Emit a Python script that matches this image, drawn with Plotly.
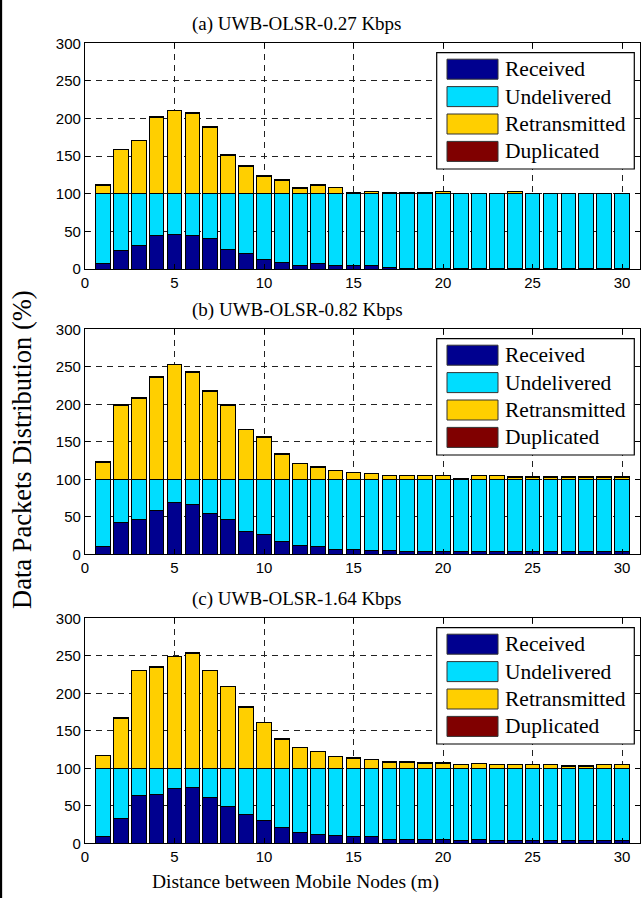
import plotly.graph_objects as go

# Distance between mobile nodes (m)
distance = list(range(1, 31))

series_names = ["Received", "Undelivered", "Retransmitted", "Duplicated"]
series_colors = ["#00008F", "#00DDFF", "#FFCF00", "#800000"]

panel_titles = [
    "(a) UWB-OLSR-0.27 Kbps",
    "(b) UWB-OLSR-0.82 Kbps",
    "(c) UWB-OLSR-1.64 Kbps",
]

# ---- (a) 0.27 Kbps ----
received_a = [7, 24, 31, 44, 46, 44, 41, 26, 21, 12, 9, 5, 7, 5, 4, 4, 1.5, 1, 1, 1,
              0.5, 0.5, 0.5, 0.5, 0.5, 0.5, 0.5, 0.5, 0.5, 0.5]
retrans_a = [11.2, 58.4, 70.4, 102, 110.2, 107.1, 88.6, 51.3, 36.8, 23.4, 18.2, 7.6, 11.4, 8.4,
             0.8, 3, 0.8, 0.8, 0.8, 3, 0.6, 0.6, 0.6, 3, 0.6, 0.6, 0.6, 0.6, 0.6, 0.6]
dup_a = [0.6, 0.6, 0.6, 0.5, 0.6, 0.6, 0.6, 0.6, 0.4, 0.5, 0.4, 0.4, 0.5, 0.4, 0.4,
         0.4, 0.4, 0.4, 0.4, 0.4, 0.4, 0.4, 0.4, 0.4, 0.4, 0.4, 0.4, 0.4, 0.4, 0.4]

# ---- (b) 0.82 Kbps ----
received_b = [11, 42, 47, 59, 69, 66, 54, 46, 30, 27, 16.5, 11.5, 10, 6.5, 6.5, 5, 5, 3.5, 3.5, 3.5,
              3.5, 3.5, 3.5, 3.5, 3.5, 3.5, 3.5, 3.5, 3.5, 3.5]
retrans_b = [22.9, 98.5, 108.2, 135.8, 152.7, 142.5, 117.6, 98.5, 66, 55.8, 33.4, 21.1, 15.8, 11.3,
             9.1, 7.3, 5.1, 5.1, 5.1, 5.1, 0.5, 5.1, 5.1, 2.5, 2.9, 2.9, 2.9, 2.9, 2.9, 2.9]
dup_b = [0.6, 0.6, 0.6, 0.6, 0.6, 1.0, 0.6, 0.6, 0.6, 0.6, 0.8, 0.6, 0.6, 0.6, 0.6,
         0.6, 0.6, 0.6, 0.6, 0.6, 1.2, 0.6, 0.6, 0.6, 0.6, 0.6, 0.6, 0.6, 0.6, 0.6]

# ---- (c) 1.64 Kbps ----
received_c = [9, 33, 63.5, 65, 73, 75, 61, 49, 39, 31, 21, 15, 12, 10, 8.5, 8.5, 5, 5, 5, 5,
              3.5, 5, 3.5, 3.5, 3.5, 3.5, 3.5, 3.5, 3.5, 3.5]
retrans_c = [17.1, 66.5, 130, 134.5, 148.5, 153.6, 130, 109.1, 81.6, 61.1, 38.9, 27.3, 21.8, 15.1,
             13.6, 11.3, 7.8, 7.4, 6.5, 6.5, 4.7, 6.0, 4.7, 4.7, 4.7, 4.7, 2.7, 2.7, 4.7, 4.7]
dup_c = [0.6, 0.6, 0.6, 0.6, 0.8, 0.6, 0.6, 0.6, 0.6, 0.6, 0.6, 0.6, 0.6, 0.6, 0.6,
         0.6, 0.6, 1.0, 0.6, 0.6, 0.6, 0.6, 0.6, 0.6, 0.6, 0.6, 1.2, 1.2, 0.6, 0.6]

y_ticks = [0, 50, 100, 150, 200, 250, 300]
x_ticks = [0, 5, 10, 15, 20, 25, 30]

panels = [
    (received_a, retrans_a, dup_a),
    (received_b, retrans_b, dup_b),
    (received_c, retrans_c, dup_c),
]

W, H = 641, 898
SERIF = "Liberation Serif"
SANS = "Liberation Sans"


def px_x(v):
    return v / W


def px_y(v):
    return 1 - v / H


# plot-area pixel extents for each panel (top, bottom)
x_left, x_right = 85, 640
panel_px = [(43.3, 269.0), (329.3, 554.3), (618.3, 843.3)]

fig = go.Figure()
shapes = []
annotations = []

for i, (rec, ret, dup) in enumerate(panels):
    n = "" if i == 0 else str(i + 1)
    xa, ya = "x" + n, "y" + n
    undelivered = [round(100 - r, 2) for r in rec]
    values = [rec, undelivered, ret, dup]
    for name, color, vals in zip(series_names, series_colors, values):
        fig.add_trace(go.Bar(
            x=distance, y=vals, name=name, xaxis=xa, yaxis=ya,
            width=0.82, marker=dict(color=color, line=dict(color="black", width=1)),
            showlegend=False,
        ))

    top, bottom = panel_px[i]
    axis_common = dict(
        showline=True, linecolor="black", linewidth=1.3, mirror="ticks",
        ticks="inside", ticklen=5, tickcolor="black", tickwidth=1,
        showgrid=True, gridcolor="#222222", gridwidth=1, griddash="6px,5px",
        zeroline=False, automargin=False,
        tickfont=dict(family=SANS, size=15, color="black"),
    )
    fig.update_layout(**{
        "xaxis" + n: dict(axis_common, domain=[px_x(x_left), px_x(x_right)],
                          range=[0, 31], tickvals=x_ticks, anchor=ya),
        "yaxis" + n: dict(axis_common, domain=[px_y(bottom), px_y(top)],
                          range=[0, 300], tickvals=y_ticks, anchor=xa),
    })

    # panel title
    annotations.append(dict(
        text=panel_titles[i], xref="paper", yref="paper",
        x=px_x(297), y=px_y(top - 19), xanchor="center", yanchor="middle",
        showarrow=False, font=dict(family=SERIF, size=19, color="black"),
    ))

    # legend box with swatches
    shapes.append(dict(
        type="rect", xref="paper", yref="paper",
        x0=px_x(436.7), x1=px_x(634.3), y0=px_y(top + 125.7), y1=px_y(top + 9.4),
        fillcolor="white", line=dict(color="black", width=1.2), layer="above",
    ))
    for k, (name, color) in enumerate(zip(series_names, series_colors)):
        cy = top + 25.9 + k * 27.4
        shapes.append(dict(
            type="rect", xref="paper", yref="paper",
            x0=px_x(447), x1=px_x(498), y0=px_y(cy + 10), y1=px_y(cy - 10),
            fillcolor=color, line=dict(color="#333333", width=1), layer="above",
        ))
        annotations.append(dict(
            text=name, xref="paper", yref="paper",
            x=px_x(503), y=px_y(cy), xanchor="left", yanchor="middle",
            showarrow=False, font=dict(family=SERIF, size=21.5, color="black"),
        ))

# shared axis titles
annotations.append(dict(
    text="Data Packets Distribution (%)", xref="paper", yref="paper",
    x=px_x(22), y=px_y(450), xanchor="center", yanchor="middle", textangle=-90,
    showarrow=False, font=dict(family=SERIF, size=26.5, color="black"),
))
annotations.append(dict(
    text="Distance between Mobile Nodes (m)", xref="paper", yref="paper",
    x=px_x(295), y=px_y(882), xanchor="center", yanchor="middle",
    showarrow=False, font=dict(family=SERIF, size=19.5, color="black"),
))

# left frame edge
shapes.append(dict(type="line", xref="paper", yref="paper",
                   x0=px_x(1), x1=px_x(1), y0=-0.02, y1=1.02,
                   line=dict(color="black", width=2.3)))

fig.update_layout(
    width=W, height=H, margin=dict(l=0, r=0, t=0, b=0, pad=0, autoexpand=False),
    paper_bgcolor="white", plot_bgcolor="white",
    barmode="stack", showlegend=False,
    shapes=shapes, annotations=annotations,
)

fig.write_html("out.html")
